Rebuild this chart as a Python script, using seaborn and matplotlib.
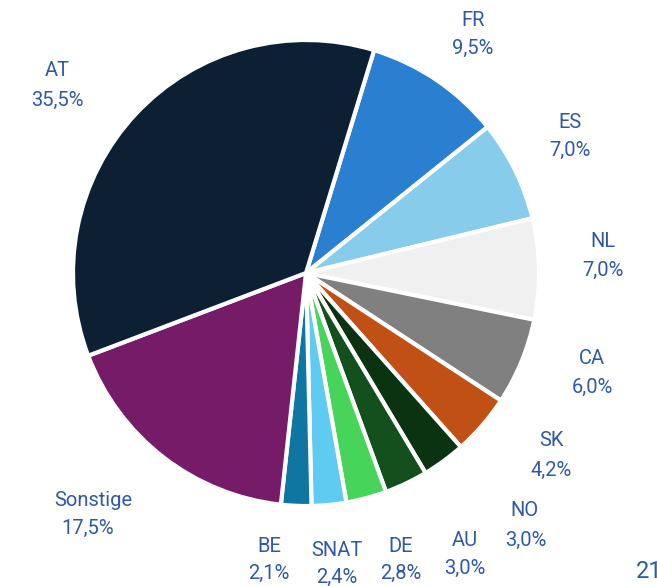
import numpy as np
import matplotlib.pyplot as plt
import seaborn as sns

sns.set_theme(style='white')
plt.rcParams['font.family'] = ['Roboto', 'DejaVu Sans']

# clockwise from FR
countries = ['FR', 'ES', 'NL', 'CA', 'SK', 'NO', 'AU', 'DE', 'SNAT', 'BE', 'Sonstige', 'AT']
shares = [9.5, 7.0, 7.0, 6.0, 4.2, 3.0, 3.0, 2.8, 2.4, 2.1, 17.5, 35.5]
colors = ['#2B7FD0', '#87CDEB', '#F0F0F0', '#808080', '#C05015', '#0B3312',
          '#144F1E', '#47D45A', '#5FCBF0', '#0E76A0', '#761B68', '#0C1F33']

# label placement in pixels (x, y of the name line), layout only
label_px = [(473, 20), (570, 122), (603, 242), (592, 358), (551, 441), (524, 510),
            (465, 540), (401, 546), (337, 550), (269, 546), (93, 500), (57, 70)]
pct_px = [(473, 48), (570, 150), (603, 270), (592, 387), (551, 470), (526, 540),
          (465, 568), (401, 573), (337, 577), (269, 573), (88, 528), (57, 100)]

W, H = 657, 586
cx, cy, R = 306, 273, 233

fig = plt.figure(figsize=(W / 100, H / 100), dpi=100)
ax = fig.add_axes([0, 0, 1, 1])
ax.pie(shares, colors=colors, startangle=73, counterclock=False, radius=1,
       wedgeprops=dict(edgecolor='white', linewidth=3))
ax.set_xlim(-cx / R, (W - cx) / R)
ax.set_ylim(-(H - cy) / R, cy / R)
ax.set_aspect('auto')
ax.axis('off')

txt_color = '#2F58A8'
for name, val, (lx, ly), (px, py) in zip(countries, shares, label_px, pct_px):
    fig.text(lx / W, 1 - ly / H, name, ha='center', va='center',
             fontsize=14.5, color=txt_color)
    fig.text(px / W, 1 - py / H, f'{val:.1f}%'.replace('.', ','), ha='center',
             va='center', fontsize=14.5, color=txt_color)

# page number, cut off at the edge as in the source slide
fig.text(636 / W, 1 - 572 / H, '21', ha='left', va='center', fontsize=17, color='#1F5FA8')

fig.savefig('out.png', dpi=100)
